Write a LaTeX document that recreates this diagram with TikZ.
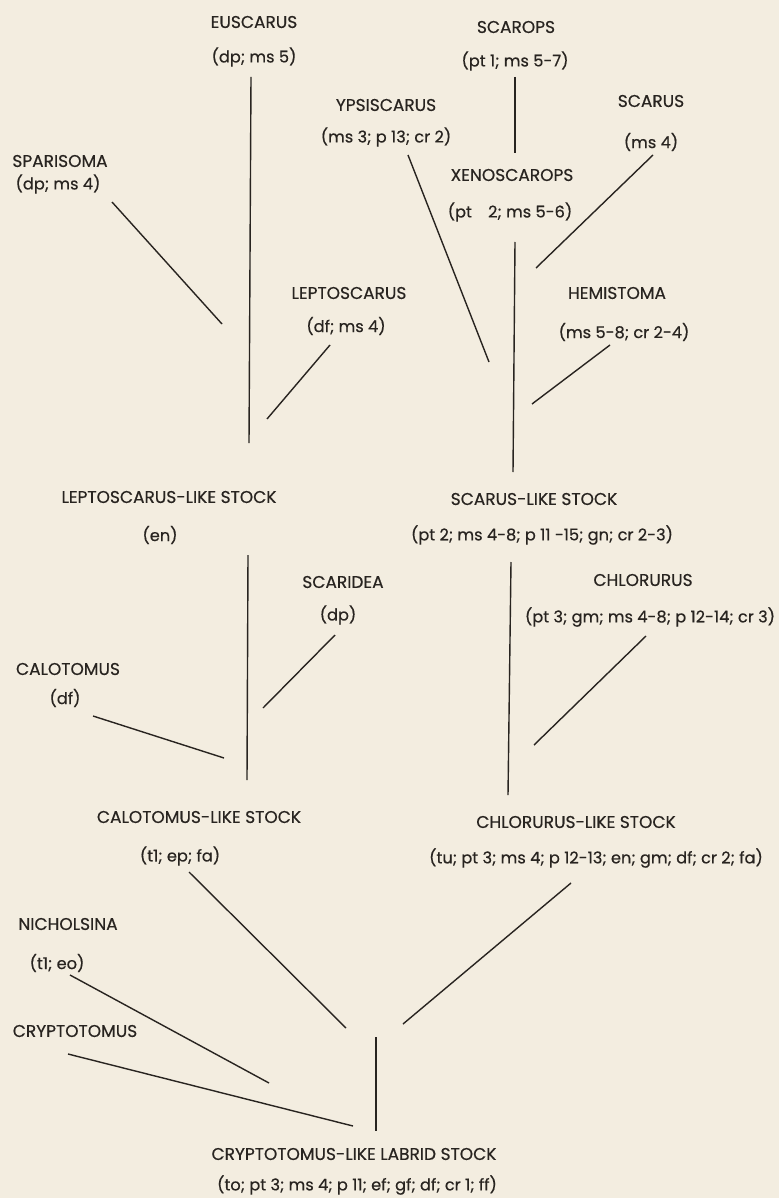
\documentclass[tikz,border=0pt]{standalone}
\usepackage{fontspec}
\setmainfont{Poppins}[FakeBold=0.5]
\definecolor{paper}{RGB}{243,237,224}
\definecolor{ink}{RGB}{40,36,32}
\begin{document}
\begin{tikzpicture}[x=1pt,y=-1pt,
    taxon/.style={text=ink,inner sep=0pt,font=\fontsize{17}{19}\selectfont},
    chars/.style={taxon,font=\fontsize{16.2}{18}\selectfont},
    branch/.style={draw=ink,line width=1.4pt}]
  \fill[paper] (0,0) rectangle (779,1198);
  \useasboundingbox (0,0) rectangle (779,1198);

  % names and characters
  \node[taxon] (euscarus)     at (254,22)  {EUSCARUS};
  \node[chars] (euscarusc)    at (254,57)  {(dp; ms 5)};
  \node[taxon] (sparisoma)    at (60,161)  {SPARISOMA};
  \node[chars] (sparisomac)   at (58,184)  {(dp; ms 4)};
  \node[taxon] (ypsiscarus)   at (386,105) {YPSISCARUS};
  \node[chars] (ypsiscarusc)  at (386,137) {(ms 3; p 13; cr 2)};
  \node[taxon] (scarops)      at (516,27)  {SCAROPS};
  \node[chars] (scaropsc)     at (515,61)  {(pt 1; ms 5-7)};
  \node[taxon] (scarus)       at (651,101) {SCARUS};
  \node[chars] (scarusc)      at (651,142) {(ms 4)};
  \node[taxon] (xenoscarops)  at (512,175) {XENOSCAROPS};
  \node[chars] (xenoscaropsc) at (510,212) {(pt\quad 2; ms 5-6)};
  \node[taxon] (leptoscarus)  at (349,293) {LEPTOSCARUS};
  \node[chars] (leptoscarusc) at (346,326) {(df; ms 4)};
  \node[taxon] (hemistoma)    at (617,293) {HEMISTOMA};
  \node[chars] (hemistomac)   at (624,332) {(ms 5-8; cr 2-4)};
  \node[taxon] (leptostock)   at (169,497) {LEPTOSCARUS-LIKE STOCK};
  \node[chars] (leptostockc)  at (160,535) {(en)};
  \node[taxon] (scarstock)    at (534,499) {SCARUS-LIKE STOCK};
  \node[chars] (scarstockc)   at (542,535) {(pt 2; ms 4-8; p 11 -15; gn; cr 2-3)};
  \node[taxon] (scaridea)     at (343,582) {SCARIDEA};
  \node[chars] (scarideac)    at (338,615) {(dp)};
  \node[taxon] (chlorurus)    at (643,580) {CHLORURUS};
  \node[chars] (chloruruscc)  at (650,617) {(pt 3; gm; ms 4-8; p 12-14; cr 3)};
  \node[taxon] (calotomus)    at (68,669)  {CALOTOMUS};
  \node[chars] (calotomusc)   at (65,698)  {(df)};
  \node[taxon] (calostock)    at (199,817) {CALOTOMUS-LIKE STOCK};
  \node[chars] (calostockc)   at (180,856) {(t1; ep; fa)};
  \node[taxon] (chlorstock)   at (576,822) {CHLORURUS-LIKE STOCK};
  \node[chars] (chlorstockc)  at (596,858) {(tu; pt 3; ms 4; p 12-13; en; gm; df; cr 2; fa)};
  \node[taxon] (nicholsina)   at (68,924)  {NICHOLSINA};
  \node[chars] (nicholsinac)  at (57,963)  {(t1; eo)};
  \node[taxon] (cryptotomus)  at (75,1031) {CRYPTOTOMUS};
  \node[taxon] (labrid)       at (354,1154) {CRYPTOTOMUS-LIKE LABRID STOCK};
  \node[chars] (labridc)      at (357,1185) {(to; pt 3; ms 4; p 11; ef; gf; df; cr 1; ff)};

  % branch ends
  \coordinate (eus1) at (251,77);   \coordinate (eus2) at (249,443);
  \coordinate (spa1) at (112,202);  \coordinate (spa2) at (222,324);
  \coordinate (lep1) at (330,345);  \coordinate (lep2) at (267,419);
  \coordinate (yps1) at (408,155);  \coordinate (yps2) at (489,362);
  \coordinate (sco1) at (515,77);   \coordinate (sco2) at (515,153);
  \coordinate (sca1) at (653,155);  \coordinate (sca2) at (536,268);
  \coordinate (xen1) at (515,242);  \coordinate (xen2) at (513,472);
  \coordinate (hem1) at (610,345);  \coordinate (hem2) at (532,404);
  \coordinate (lst1) at (248,555);  \coordinate (lst2) at (247,780);
  \coordinate (scd1) at (335,635);  \coordinate (scd2) at (263,708);
  \coordinate (cal1) at (93,716);   \coordinate (cal2) at (224,758);
  \coordinate (sst1) at (511,562);  \coordinate (sst2) at (508,795);
  \coordinate (chl1) at (646,636);  \coordinate (chl2) at (534,745);
  \coordinate (cst1) at (189,872);  \coordinate (cst2) at (346,1028);
  \coordinate (hst1) at (571,883);  \coordinate (hst2) at (403,1024);
  \coordinate (nic1) at (70,975);   \coordinate (nic2) at (269,1083);
  \coordinate (cry1) at (68,1054);  \coordinate (cry2) at (353,1126);
  \coordinate (lab1) at (376,1037); \coordinate (lab2) at (376,1131);

  \foreach \b in {eus,spa,lep,yps,sco,sca,xen,hem,lst,scd,cal,sst,chl,cst,hst,nic,cry,lab}
  \draw[branch] (\b1) -- (\b2);
\end{tikzpicture}
\end{document}
